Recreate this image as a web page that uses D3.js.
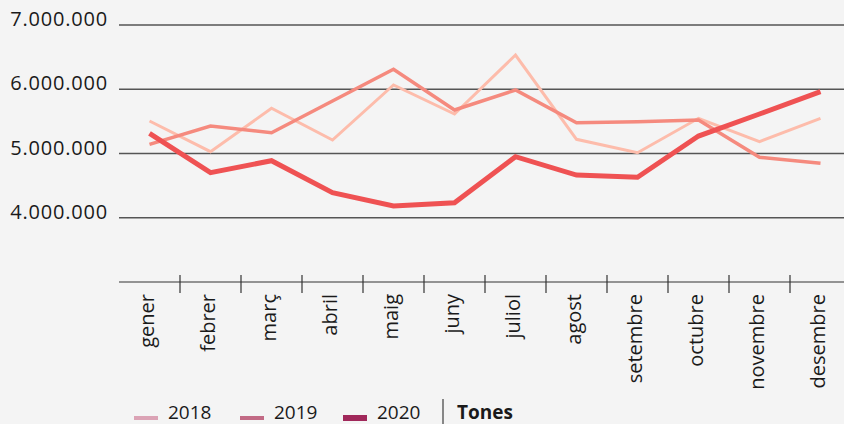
<!DOCTYPE html>
<html>
<head>
<meta charset="utf-8">
<script src="https://cdn.jsdelivr.net/npm/d3@7"></script>
<style>
  html, body { margin: 0; padding: 0; background: #f4f4f4; }
  svg { display: block; font-family: "Open Sans", "Noto Sans", sans-serif; }
</style>
</head>
<body>
<svg id="chart" width="844" height="424"></svg>
<script>
let months = ["gener", "febrer", "març", "abril", "maig", "juny", "juliol", "agost", "setembre", "octubre", "novembre", "desembre"]

let tones2018 = [5506000, 5028000, 5704000, 5210000, 6066000, 5615000, 6533000, 5221000, 5012000, 5548000, 5184000, 5548000]
let tones2019 = [5143000, 5428000, 5324000, 5817000, 6311000, 5677000, 5988000, 5479000, 5495000, 5521000, 4941000, 4847000]
let tones2020 = [5314000, 4701000, 4888000, 4390000, 4183000, 4234000, 4950000, 4665000, 4630000, 5272000, 5615000, 5962000]

let yTicks = [4000000, 5000000, 6000000, 7000000]
let years = ["2018", "2019", "2020"]
let unitLabel = "Tones"

// line colours and legend colours differ in the original
let lineColor = { "2018": "#fdbcab", "2019": "#f58a7e", "2020": "#ef5253" }
let lineWidth = { "2018": 3, "2019": 3.5, "2020": 5 }
let legendColor = { "2018": "#dba3b5", "2019": "#c26a85", "2020": "#a0285a" }
let legendHeight = { "2018": 4, "2019": 4, "2020": 6 }

let series = [
  { year: "2018", values: tones2018 },
  { year: "2019", values: tones2019 },
  { year: "2020", values: tones2020 }
]

let svg = d3.select("svg#chart")

let x = d3.scaleBand().domain(months).range([119, 851])
let y = d3.scaleLinear().domain([3000000, 7000000]).range([282, 25])

let locale = d3.formatLocale({ decimal: ",", thousands: ".", grouping: [3], currency: ["", " €"] })
let fmt = locale.format(",")

// grid lines + y labels
let grid = svg.append("g")
grid.selectAll("line")
  .data(yTicks)
  .enter().append("line")
    .attr("x1", 119).attr("x2", 844)
    .attr("y1", d => y(d)).attr("y2", d => y(d))
    .style("stroke", "#555").style("stroke-width", 1.3)

grid.selectAll("text")
  .data(yTicks)
  .enter().append("text")
    .attr("x", 108)
    .attr("y", d => y(d) + 1)
    .attr("text-anchor", "end")
    .style("font-size", "20px")
    .style("letter-spacing", "0.8px")
    .style("fill", "#1a1a1a")
    .text(d => fmt(d))

// x axis
let xAxis = svg.append("g")
xAxis.append("line")
  .attr("x1", 119).attr("x2", 844)
  .attr("y1", y(3000000)).attr("y2", y(3000000))
  .style("stroke", "#333").style("stroke-width", 1.2)

xAxis.selectAll("line.tick")
  .data(months.slice(1))
  .enter().append("line").classed("tick", true)
    .attr("x1", d => x(d)).attr("x2", d => x(d))
    .attr("y1", y(3000000) - 7).attr("y2", y(3000000) + 11)
    .style("stroke", "#333").style("stroke-width", 1.2)

xAxis.selectAll("text")
  .data(months)
  .enter().append("text")
    .attr("transform", d => `translate(${x(d) + x.bandwidth() / 2 + 4},294) rotate(-90)`)
    .attr("text-anchor", "end")
    .style("font-size", "20px")
    .style("fill", "#1a1a1a")
    .text(d => d)

// lines
let line = d3.line()
  .x((d, i) => x(months[i]) + x.bandwidth() / 2)
  .y(d => y(d))

svg.append("g").selectAll("path")
  .data(series)
  .enter().append("path")
    .attr("d", d => line(d.values))
    .style("fill", "none")
    .style("stroke", d => lineColor[d.year])
    .style("stroke-width", d => lineWidth[d.year])
    .style("stroke-linejoin", "miter")

// legend
let legendX = { "2018": 134, "2019": 240, "2020": 343 }
let legend = svg.append("g")
let items = legend.selectAll("g")
  .data(years)
  .enter().append("g")

items.append("rect")
  .attr("x", d => legendX[d])
  .attr("y", d => 418 - legendHeight[d] / 2)
  .attr("width", 24)
  .attr("height", d => legendHeight[d])
  .style("fill", d => legendColor[d])

items.append("text")
  .attr("x", d => legendX[d] + 34)
  .attr("y", 419)
  .style("font-size", "19px")
  .style("fill", "#1a1a1a")
  .text(d => d)

legend.append("line")
  .attr("x1", 443).attr("x2", 443)
  .attr("y1", 399).attr("y2", 424)
  .style("stroke", "#1a1a1a").style("stroke-width", 1)

legend.append("text")
  .attr("x", 457)
  .attr("y", 419)
  .style("font-size", "19px")
  .style("font-weight", "bold")
  .style("fill", "#1a1a1a")
  .text(unitLabel)
</script>
</body>
</html>
